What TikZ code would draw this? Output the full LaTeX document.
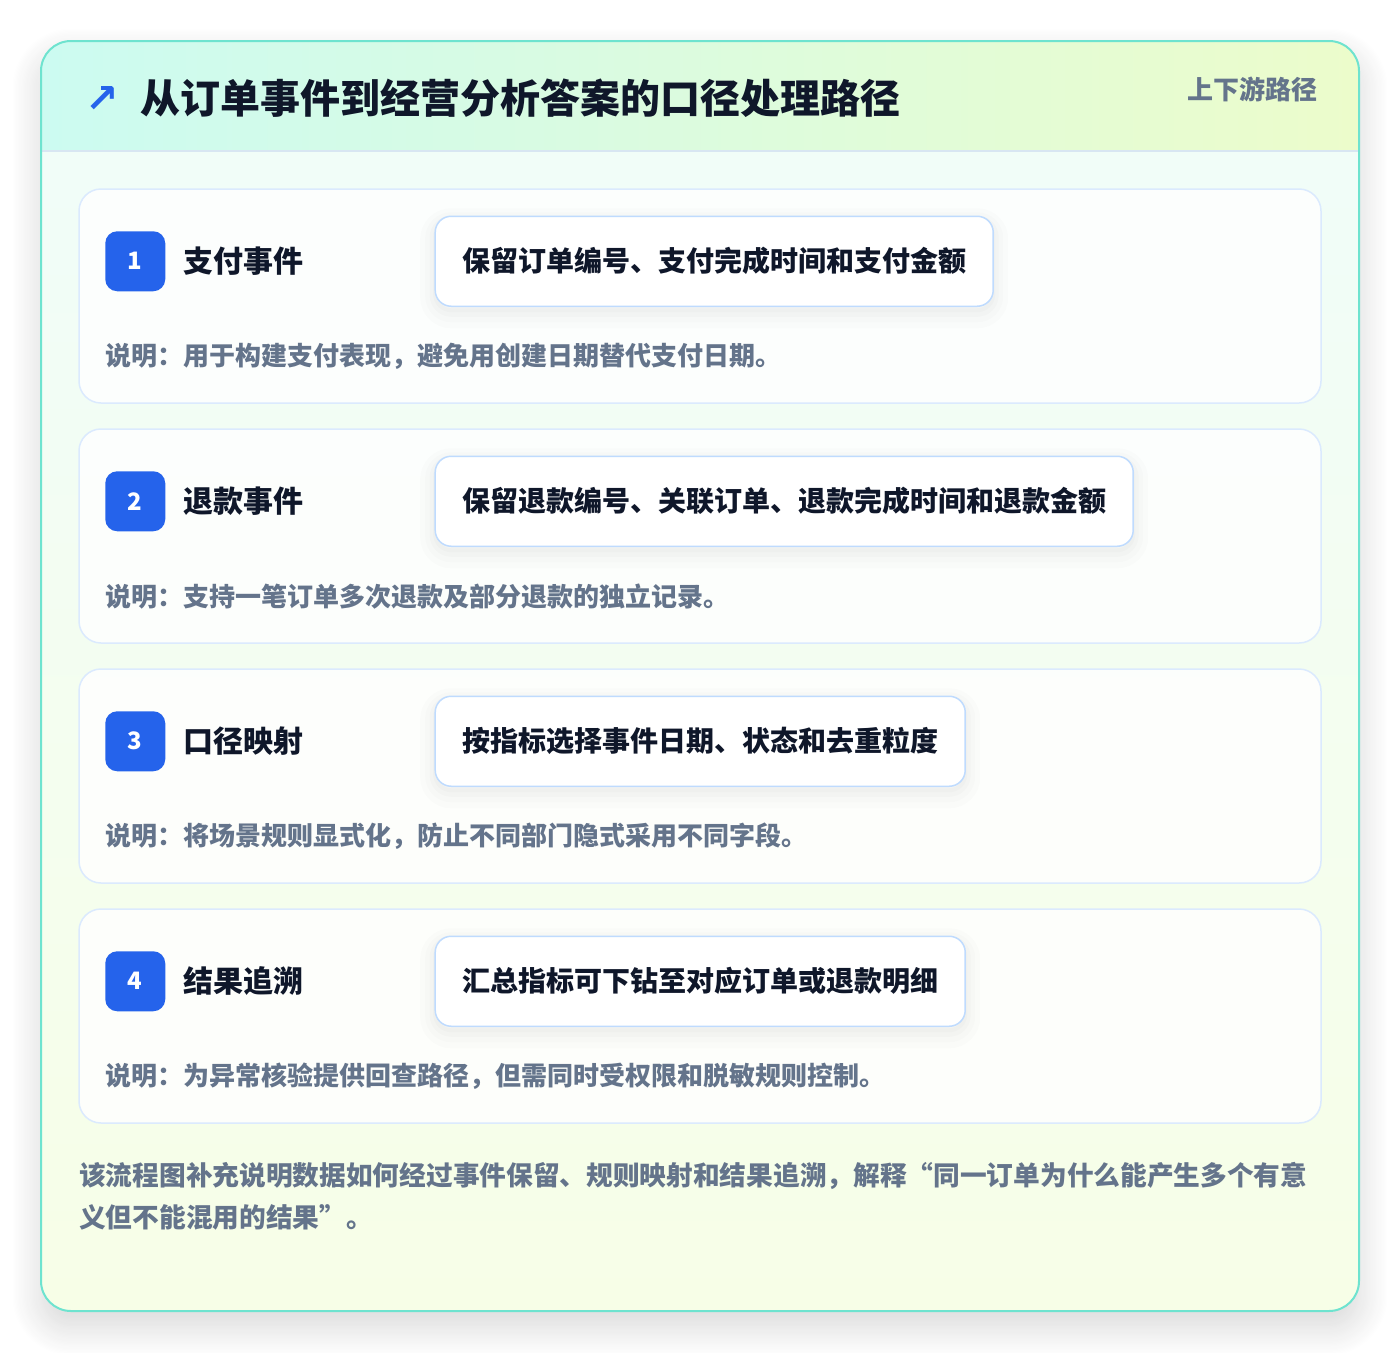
\documentclass[tikz,border=0pt]{standalone}
\usepackage{fontspec}
\setmainfont{Noto Sans CJK SC}
\newfontfamily\symfont{DejaVu Sans}
\usetikzlibrary{positioning,shadows.blur}

\definecolor{frameteal}{HTML}{6EE3CF}
\definecolor{headleft}{HTML}{CCFBF1}
\definecolor{headright}{HTML}{ECFCCB}
\definecolor{bodytop}{HTML}{F0FDFA}
\definecolor{bodybot}{HTML}{F7FEE7}
\definecolor{headline}{HTML}{D8E6F2}
\definecolor{cardline}{HTML}{DBEAFE}
\definecolor{boxline}{HTML}{BFDBFE}
\definecolor{badgeblue}{HTML}{2563EB}
\definecolor{ink}{HTML}{0F172A}
\definecolor{slate}{HTML}{64748B}

\newcommand{\fsz}[1]{\fontsize{#1}{#1}\selectfont}

\begin{document}
\begin{tikzpicture}[x=1pt,y=-1pt,
  softshade/.style={
    preaction={draw=black,draw opacity=.010,line width=30pt,transform canvas={yshift=-7pt}},
    preaction={draw=black,draw opacity=.012,line width=20pt,transform canvas={yshift=-6pt}},
    preaction={draw=black,draw opacity=.014,line width=11pt,transform canvas={yshift=-5pt}},
    preaction={draw=black,draw opacity=.016,line width=4pt,transform canvas={yshift=-4pt}}},
  cardbox/.style={draw=cardline,line width=1.5pt,fill=white,fill opacity=.82,text opacity=1,
    rounded corners=22pt,minimum width=1242pt,minimum height=214pt,inner sep=0pt},
  badge/.style={fill=badgeblue,rounded corners=12pt,minimum size=60pt,inner sep=0pt,
    text=white,font=\bfseries\fsz{24}},
  steptitle/.style={inner sep=0pt,text=ink,font=\bfseries\fsz{30},anchor=west},
  fieldbox/.style={softshade,draw=boxline,line width=1.5pt,fill=white,rounded corners=16pt,
    minimum height=90pt,inner xsep=27pt,inner ysep=0pt,text=ink,font=\bfseries\fsz{28},anchor=west},
  note/.style={inner sep=0pt,text=slate,font=\bfseries\fsz{26},anchor=west}]
  \useasboundingbox (0,0) rectangle (1400,1352);

  % outer card with shadow, body and header
  \path[rounded corners=30pt,fill=white,
    blur shadow={shadow xshift=0pt,shadow yshift=-16pt,shadow blur radius=30pt,
      shadow blur steps=24,shadow opacity=16}]
    (41,41) rectangle (1359,1311);
  \path[rounded corners=30pt,top color=bodytop,bottom color=bodybot] (41,41) rectangle (1359,1311);
  \begin{scope}
    \clip[rounded corners=30pt] (41,41) rectangle (1359,1311);
    \fill[left color=headleft,right color=headright] (41,41) rectangle (1359,151);
  \end{scope}
  \draw[headline,line width=1.5pt] (41,151) -- (1359,151);
  \draw[frameteal,line width=2pt,rounded corners=30pt] (41,41) rectangle (1359,1311);

  \node[inner sep=0pt,text=badgeblue,font=\symfont\bfseries\fsz{40}] (arrow) at (102,99) {↗};
  \node[inner sep=0pt,text=ink,font=\bfseries\fsz{40},anchor=base west] (title) at (140,113) {从订单事件到经营分析答案的口径处理路径};
  \node[inner sep=0pt,text=slate,font=\bfseries\fsz{26},anchor=base east] (tag) at (1318,99) {上下游路径};

  % step 1
  \node[cardbox] (card1) at (700,296) {};
  \node[badge] (b1) at ([xshift=57pt,yshift=-73pt]card1.north west) {1};
  \node[steptitle,right=18pt of b1] (t1) {支付事件};
  \node[fieldbox,right=269pt of b1] (f1) {保留订单编号、支付完成时间和支付金额};
  \node[note] (n1) at ([yshift=-95pt]b1.west) {说明：用于构建支付表现，避免用创建日期替代支付日期。};

  % step 2
  \node[cardbox] (card2) at (700,536) {};
  \node[badge] (b2) at ([xshift=57pt,yshift=-73pt]card2.north west) {2};
  \node[steptitle,right=18pt of b2] (t2) {退款事件};
  \node[fieldbox,right=269pt of b2] (f2) {保留退款编号、关联订单、退款完成时间和退款金额};
  \node[note] (n2) at ([yshift=-95pt]b2.west) {说明：支持一笔订单多次退款及部分退款的独立记录。};

  % step 3
  \node[cardbox] (card3) at (700,776) {};
  \node[badge] (b3) at ([xshift=57pt,yshift=-73pt]card3.north west) {3};
  \node[steptitle,right=18pt of b3] (t3) {口径映射};
  \node[fieldbox,right=269pt of b3] (f3) {按指标选择事件日期、状态和去重粒度};
  \node[note] (n3) at ([yshift=-95pt]b3.west) {说明：将场景规则显式化，防止不同部门隐式采用不同字段。};

  % step 4
  \node[cardbox] (card4) at (700,1016) {};
  \node[badge] (b4) at ([xshift=57pt,yshift=-73pt]card4.north west) {4};
  \node[steptitle,right=18pt of b4] (t4) {结果追溯};
  \node[fieldbox,right=269pt of b4] (f4) {汇总指标可下钻至对应订单或退款明细};
  \node[note] (n4) at ([yshift=-95pt]b4.west) {说明：为异常核验提供回查路径，但需同时受权限和脱敏规则控制。};

  \node[inner sep=0pt,text=slate,font=\bfseries\fontsize{26.7}{42}\selectfont,align=left,anchor=base west] (summary) at (79,1227)
    {该流程图补充说明数据如何经过事件保留、规则映射和结果追溯，解释“同一订单为什么能产生多个有意\\义但不能混用的结果”。};
\end{tikzpicture}
\end{document}
